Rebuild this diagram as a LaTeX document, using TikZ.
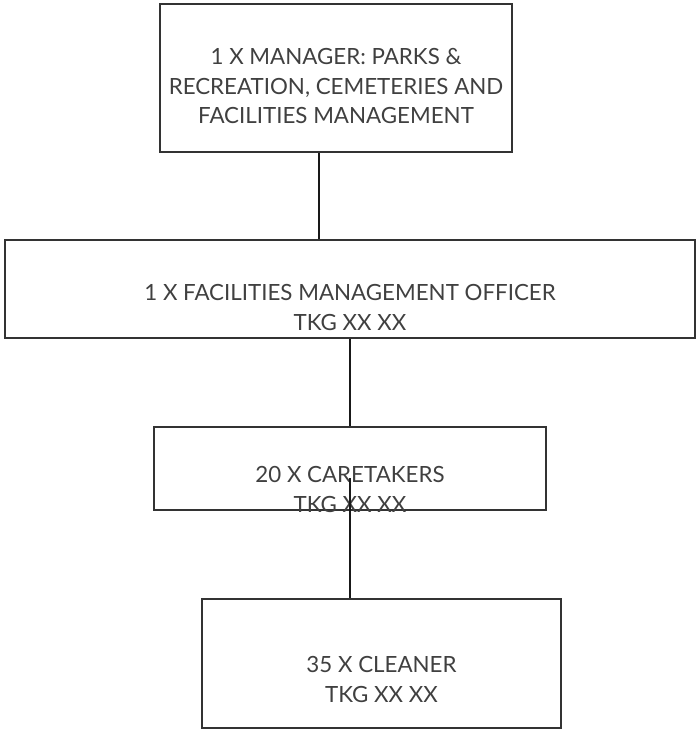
\documentclass[tikz,border=0pt]{standalone}
\usepackage{fontspec}
\setmainfont{Lato}
\usepackage{tikz}
\usetikzlibrary{calc}

\begin{document}
\begin{tikzpicture}[
    post/.style  = {draw=black!80, line width=0.9pt, rectangle, inner sep=0pt},
    title/.style = {align=center, text=black!75, font=\fontsize{12.7}{16.8}\selectfont, inner sep=0pt},
    link/.style  = {draw=black!90, line width=1pt}
  ]
        \useasboundingbox (0,0) rectangle (13.94,-14.6);

        \node [post, minimum width=7.04cm, minimum height=2.96cm] (mgr)   at (6.72,-1.56)  {};
        \node [post, minimum width=13.8cm, minimum height=1.96cm] (fmo)   at (7.00,-5.78)  {};
        \node [post, minimum width=7.84cm, minimum height=1.66cm] (care)  at (7.00,-9.37)  {};
        \node [post, minimum width=7.18cm, minimum height=2.58cm] (clean) at (7.63,-13.27) {};

        \node [title] (mgrtext)   at (6.72,-1.72)  {1 X MANAGER: PARKS \&\\RECREATION, CEMETERIES AND\\FACILITIES MANAGEMENT};
        \node [title] (fmotext)   at (7.00,-6.15)  {1 X FACILITIES MANAGEMENT OFFICER\\TKG XX XX};
        \node [title] (caretext)  at (7.00,-9.79)  {20 X CARETAKERS\\TKG XX XX};
        \node [title] (cleantext) at (7.63,-13.59) {35 X CLEANER\\TKG XX XX};

        \draw [link] ([xshift=-3.4mm]mgr.south) -- ([xshift=-3.4mm]mgr.south |- fmo.north); 
        \draw [link] (fmo.south) -- (care.north);                                           
        \draw [link] ([yshift=-1.9mm]care.center) -- (care.center |- clean.north);          
      \end{tikzpicture}
\end{document}
